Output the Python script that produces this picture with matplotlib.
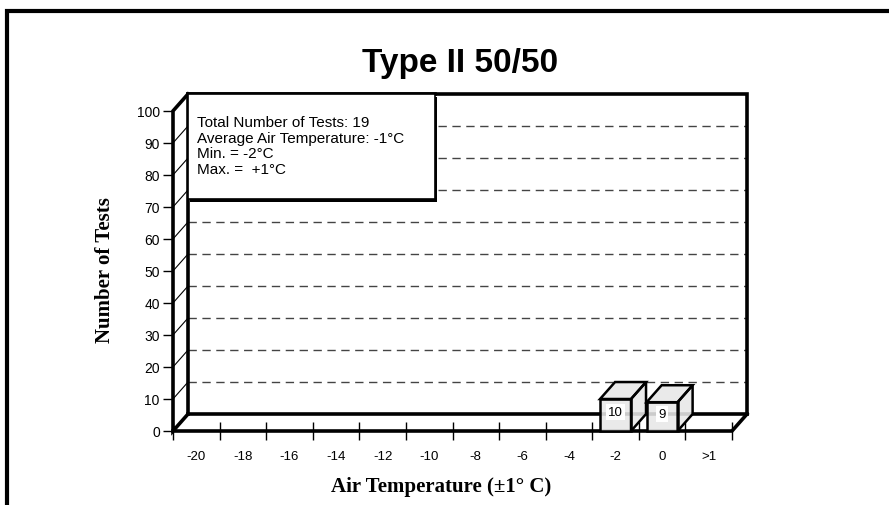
import matplotlib.pyplot as plt
from matplotlib.patches import Polygon, Rectangle
from matplotlib.lines import Line2D

# Test counts per air temperature bin
temp_labels = ["-20", "-18", "-16", "-14", "-12", "-10", "-8", "-6", "-4", "-2", "0", ">1"]
test_counts = [0, 0, 0, 0, 0, 0, 0, 0, 0, 10, 9, 0]
y_ticks = [0, 10, 20, 30, 40, 50, 60, 70, 80, 90, 100]
summary_lines = [
    "Total Number of Tests: 19",
    "Average Air Temperature: -1°C",
    "Min. = -2°C",
    "Max. =  +1°C",
]

sans = ["Liberation Sans", "DejaVu Sans"]
serif = ["Liberation Serif", "DejaVu Serif"]

n = len(temp_labels)
ymax = y_ticks[-1]
DX, DY = 0.322, 5.3      # depth offset of the back wall (x in categories, y in counts)
bar_w = 0.665
thick = 2.6

fig = plt.figure(figsize=(8.89, 5.06), dpi=100)
ax = fig.add_axes([173 / 889, 74 / 506, 574 / 889, 337 / 506])
ax.set_xlim(0, n + DX)
ax.set_ylim(0, ymax + DY)
for s in ax.spines.values():
    s.set_visible(False)

# axis ticks and labels
ax.set_yticks(y_ticks)
ax.set_yticklabels([str(v) for v in y_ticks], fontfamily=sans, fontsize=10)
ax.tick_params(axis="y", direction="out", length=7.5, width=1, pad=2)
ax.set_xticks([i + 0.5 for i in range(n)])
ax.set_xticklabels(temp_labels, fontfamily=sans, fontsize=9.5)
ax.set_xticks(range(n + 1), minor=True)
ax.tick_params(axis="x", which="major", length=0, pad=14)
ax.tick_params(axis="x", which="minor", direction="inout", length=12.5, width=1)

# back wall gridlines and little depth ticks
for v in y_ticks[1:-1]:
    ax.plot([DX, n + DX], [v + DY, v + DY], color="#444444", lw=1,
            dashes=(6, 4), zorder=1)
    ax.plot([0, DX], [v, v + DY], color="black", lw=0.8, zorder=1)

# walls and floor outline
def frame(xs, ys):
    ax.add_line(Line2D(xs, ys, color="black", lw=thick, clip_on=False,
                       solid_joinstyle="miter", zorder=3))

frame([DX, DX, n + DX, n + DX], [DY, ymax + DY, ymax + DY, DY])
frame([DX, n + DX], [DY, DY])
frame([DX, 0, 0, DX], [ymax + DY, ymax, 0, DY])
frame([0, n, n + DX], [0, 0, DY])

# 3-D bars
for i, v in enumerate(test_counts):
    if v == 0:
        continue
    x0, x1 = i + 0.5 - bar_w / 2, i + 0.5 + bar_w / 2
    faces = [
        [(x0, 0), (x1, 0), (x1, v), (x0, v)],
        [(x0, v), (x1, v), (x1 + DX, v + DY), (x0 + DX, v + DY)],
        [(x1, 0), (x1 + DX, DY), (x1 + DX, v + DY), (x1, v)],
    ]
    for f in faces:
        ax.add_patch(Polygon(f, closed=True, facecolor="#e8e8e8", alpha=0.88,
                             edgecolor="none", zorder=4, clip_on=False))
        ax.add_patch(Polygon(f, closed=True, facecolor="none", edgecolor="black",
                             lw=1.8, joinstyle="miter", zorder=5, clip_on=False))
    ax.text(i + 0.5, v * 0.6, str(v), ha="center", va="center",
            fontfamily=sans, fontsize=9.5, zorder=6,
            bbox=dict(boxstyle="square,pad=0.15", facecolor="white", edgecolor="none"))

# summary box with drop shadow
bx0, bx1, by0, by1 = DX, 5.62, 72.5, ymax + DY
ax.add_patch(Rectangle((bx0 + 0.05, by0 - 0.8), bx1 - bx0, by1 - by0,
                       facecolor="black", edgecolor="none", zorder=7, clip_on=False))
ax.add_patch(Rectangle((bx0, by0), bx1 - bx0, by1 - by0, facecolor="white",
                       edgecolor="black", lw=1.2, zorder=8, clip_on=False))
frame([DX, bx1], [ymax + DY, ymax + DY])
ax.text(0.52, 98.7, "\n".join(summary_lines), ha="left", va="top",
        fontfamily=sans, fontsize=11, linespacing=1.14, zorder=9)

# titles
fig.text(460 / 889, 1 - 64 / 506, "Type II 50/50", ha="center", va="center",
         fontfamily=sans, fontweight="bold", fontsize=24)
fig.text(441 / 889, 1 - 487 / 506, "Air Temperature (±1° C)", ha="center",
         va="center", fontfamily=serif, fontweight="bold", fontsize=15)
fig.text(105 / 889, 1 - 270 / 506, "Number of Tests", ha="center", va="center",
         rotation=90, fontfamily=serif, fontweight="bold", fontsize=15)

# outer frame
fig.add_artist(Line2D([7 / 889, 7 / 889, 1.0], [0.0, 1 - 12 / 506, 1 - 12 / 506],
                      transform=fig.transFigure, color="black", lw=3,
                      solid_joinstyle="miter"))

fig.savefig("out.png", dpi=100)
